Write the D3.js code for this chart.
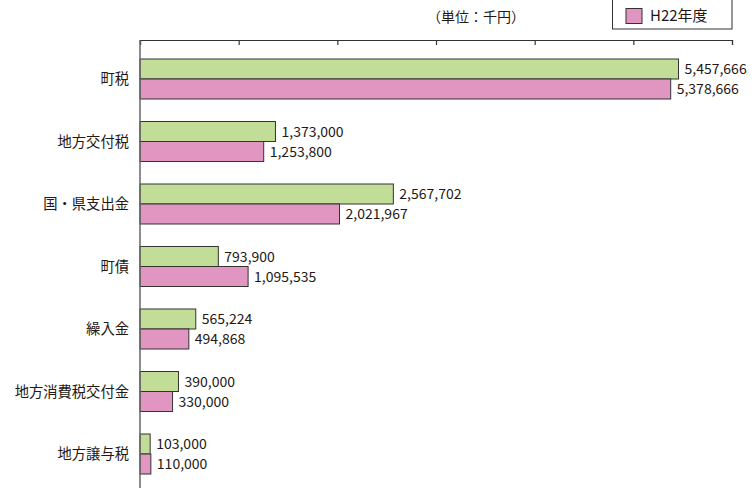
<!DOCTYPE html>
<html>
<head>
<meta charset="utf-8">
<script src="https://cdn.jsdelivr.net/npm/d3@7"></script>
<style>
body { margin: 0; background: #fff; }
svg { display: block; font-family: "Noto Sans CJK JP", "Noto Sans", sans-serif; }
</style>
</head>
<body>
<svg width="756" height="494"></svg>
<script>
// data (単位：千円)
var categories = ["町税", "地方交付税", "国・県支出金", "町債", "繰入金", "地方消費税交付金", "地方譲与税"];
var valuesH23 = [5457666, 1373000, 2567702, 793900, 565224, 390000, 103000];
var valuesH22 = [5378666, 1253800, 2021967, 1095535, 494868, 330000, 110000];
var seriesNames = ["H23年度", "H22年度"];
var xTicks = [0, 1000000, 2000000, 3000000, 4000000, 5000000, 6000000];

var colors = ["#c1dd98", "#e096c0"];

var svg = d3.select("svg");

// scales
var x = d3.scaleLinear().domain([0, 6000000]).range([140, 732]);
var y = d3.scaleBand().domain(categories).range([47.75, 485.25])
	.paddingInner(0.36).paddingOuter(0.18);
var ySub = d3.scaleBand().domain([0, 1]).range([0, y.bandwidth()]);

// top axis
var axis = svg.append("g")
	.attr("transform", "translate(0,40)")
	.call(d3.axisTop(x).tickValues(xTicks).tickSize(-5).tickFormat(""));
axis.select(".domain").attr("stroke", "#333").attr("stroke-width", 1.2);
axis.selectAll(".tick line").attr("stroke", "#333").attr("stroke-width", 1.2);

// bars
var series = [valuesH23, valuesH22];
var groups = svg.selectAll(".grp")
	.data(categories)
	.enter().append("g")
	.attr("class", "grp")
	.attr("transform", d => "translate(0," + y(d) + ")");

groups.each(function(cat, i) {
	var g = d3.select(this);
	series.forEach(function(vals, s) {
		g.append("rect")
			.attr("x", x(0))
			.attr("y", ySub(s))
			.attr("width", x(vals[i]) - x(0))
			.attr("height", ySub.bandwidth())
			.attr("fill", colors[s])
			.attr("stroke", "#333")
			.attr("stroke-width", 1);
		g.append("text")
			.attr("x", x(vals[i]) + 6)
			.attr("y", ySub(s) + ySub.bandwidth() / 2)
			.attr("dy", "0.36em")
			.attr("font-size", 14)
			.attr("fill", "#231815")
			.text(d3.format(",")(vals[i]));
	});
});

// category labels
svg.selectAll(".cat")
	.data(categories)
	.enter().append("text")
	.attr("class", "cat")
	.attr("x", 129)
	.attr("y", d => y(d) + y.bandwidth() / 2)
	.attr("dy", "0.36em")
	.attr("text-anchor", "end")
	.attr("font-size", 14.3)
	.attr("fill", "#231815")
	.text(d => d);

// left axis line
svg.append("line")
	.attr("x1", 140).attr("x2", 140)
	.attr("y1", 40).attr("y2", 488)
	.attr("stroke", "#666")
	.attr("stroke-width", 1.5);

// unit note
svg.append("text")
	.attr("x", 476).attr("y", 17)
	.attr("dy", "0.36em")
	.attr("text-anchor", "middle")
	.attr("font-size", 14)
	.attr("fill", "#231815")
	.text("（単位：千円）");

// legend (only the H22 row is visible)
svg.append("rect")
	.attr("x", 612.5).attr("y", -20)
	.attr("width", 119.5).attr("height", 49)
	.attr("fill", "#fff")
	.attr("stroke", "#333");
svg.append("rect")
	.attr("x", 626).attr("y", 8.5)
	.attr("width", 16).attr("height", 15)
	.attr("fill", colors[1])
	.attr("stroke", "#333");
svg.append("text")
	.attr("x", 650).attr("y", 16)
	.attr("dy", "0.36em")
	.attr("font-size", 15)
	.attr("fill", "#231815")
	.text(seriesNames[1]);
</script>
</body>
</html>
